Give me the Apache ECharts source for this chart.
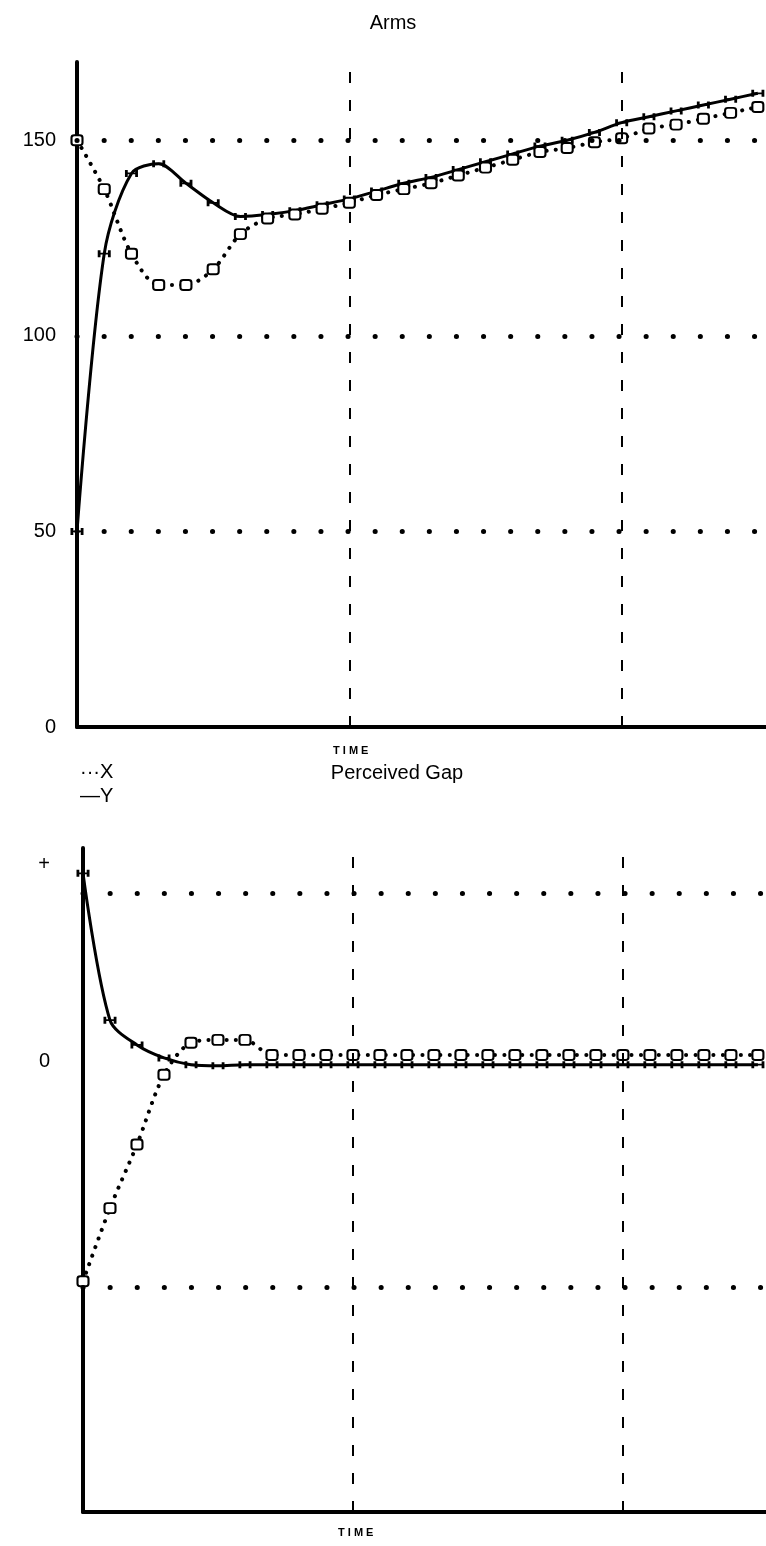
<!DOCTYPE html>
<html>
<head>
<meta charset="utf-8">
<script src="https://cdn.jsdelivr.net/npm/echarts@6/dist/echarts.min.js"></script>
<style>
  html, body { margin: 0; padding: 0; background: #fff; }
  #main { width: 766px; height: 1546px; }
</style>
</head>
<body>
<div id="main"></div>
<script>
// time steps (both panels)
var timeSteps = [0, 2, 4, 6, 8, 10, 12, 14, 16, 18, 20, 22, 24, 26, 28, 30, 32, 34, 36, 38, 40, 42, 44, 46, 48, 50];

// Arms
var armsX = [150, 137.5, 121, 113, 113, 117, 126, 130, 131, 132.5, 134, 136, 137.5, 139, 141, 143, 145, 147, 148, 149.5, 150.5, 153, 154, 155.5, 157, 158.5];
var armsY = [50, 121, 141.5, 144, 139, 134, 130.5, 131, 132, 133.5, 135, 137, 139, 140.5, 142.5, 144.5, 146.5, 148.5, 150, 152, 154.5, 156, 157.5, 159, 160.5, 162];
var armsTicks = [0, 50, 100, 150];
var armsGrid = [50, 100, 150];

// Perceived Gap
var gapX = [-39, -26, -14.7, -2.3, 3.4, 3.9, 3.9, 1.2, 1.2, 1.2, 1.2, 1.2, 1.2, 1.2, 1.2, 1.2, 1.2, 1.2, 1.2, 1.2, 1.2, 1.2, 1.2, 1.2, 1.2, 1.2];
var gapY = [33.5, 7.4, 3, 0.7, -0.5, -0.7, -0.5, -0.5, -0.5, -0.5, -0.5, -0.5, -0.5, -0.5, -0.5, -0.5, -0.5, -0.5, -0.5, -0.5, -0.5, -0.5, -0.5, -0.5, -0.5, -0.5];
var gapTicks = [0, 35];
var gapTickText = ["0", "+"];
var gapGrid = [30, -40];

var timeMarks = [20, 40];

function pairs(ys) {
  return timeSteps.map(function (t, i) { return [t, ys[i]]; });
}

var FONT = "Liberation Sans";
var iBeam = "path://M0,0 H3 V3 H11 V0 H14 V8 H11 V5 H3 V8 H0 Z";

var dotted = { color: "#000", width: 5, cap: "round", type: [0.1, 27] };
var dashed = { color: "#000", width: 2, type: [11, 17] };

function guideLines(hor) {
  return {
    silent: true,
    symbol: "none",
    label: { show: false },
    data: hor.map(function (v) { return { yAxis: v, lineStyle: dotted }; })
      .concat(timeMarks.map(function (v) { return { xAxis: v, lineStyle: dashed }; }))
  };
}

function dottedLine() {
  return { color: "#000", width: 4, cap: "round", type: [0.1, 9] };
}

var chart = echarts.init(document.getElementById("main"));

var option = {
  animation: false,
  textStyle: { fontFamily: FONT },
  title: [
    { text: "Arms", left: 388, top: 8, textAlign: "center",
      textStyle: { fontFamily: FONT, fontSize: 20, fontWeight: "normal", color: "#000" } },
    { text: "Perceived Gap", left: 392, top: 758, textAlign: "center",
      textStyle: { fontFamily: FONT, fontSize: 20, fontWeight: "normal", color: "#000" } }
  ],
  grid: [
    { left: 77, right: 0, top: 62, height: 665 },
    { left: 83, right: 0, top: 848, height: 664 }
  ],
  xAxis: [0, 1].map(function (g) {
    return {
      type: "value", gridIndex: g, min: 0, max: 50.6,
      axisLine: { onZero: false, lineStyle: { color: "#000", width: 4 } },
      axisTick: { show: false }, axisLabel: { show: false }, splitLine: { show: false }
    };
  }),
  yAxis: [
    {
      type: "value", gridIndex: 0, min: 0, max: 170, interval: 10,
      axisLine: { show: true, onZero: false, lineStyle: { color: "#000", width: 4 } },
      axisTick: { show: false }, splitLine: { show: false },
      axisLabel: {
        margin: 21, fontSize: 20, color: "#000", fontFamily: FONT,
        showMaxLabel: false,
        formatter: function (v) { return armsTicks.indexOf(v) >= 0 ? String(v) : ""; }
      }
    },
    {
      type: "value", gridIndex: 1, min: -80, max: 38, interval: 5,
      axisLine: { show: true, onZero: false, lineStyle: { color: "#000", width: 4 } },
      axisTick: { show: false }, splitLine: { show: false },
      axisLabel: {
        margin: 33, fontSize: 20, color: "#000", fontFamily: FONT,
        showMaxLabel: false,
        formatter: function (v) {
          var k = gapTicks.indexOf(v);
          return k >= 0 ? gapTickText[k] : "";
        }
      }
    }
  ],
  graphic: [
    { type: "text", left: 333, top: 745, style: { text: "T I M E", font: "bold 11px " + FONT, fill: "#000" } },
    { type: "text", left: 338, top: 1527, style: { text: "T I M E", font: "bold 11px " + FONT, fill: "#000" } },
    { type: "text", left: 80, top: 762, style: { text: "\u00b7\u00b7\u00b7X", font: "20px " + FONT, fill: "#000" } },
    { type: "text", left: 80, top: 786, style: { text: "\u2014Y", font: "20px " + FONT, fill: "#000" } }
  ],
  series: [
    {
      name: "Y", type: "line", xAxisIndex: 0, yAxisIndex: 0, data: pairs(armsY),
      smooth: 0.3, symbol: iBeam, symbolSize: [13, 7], showAllSymbol: true,
      lineStyle: { color: "#000", width: 3 }, itemStyle: { color: "#000" },
      markLine: guideLines(armsGrid), z: 3
    },
    {
      name: "X", type: "line", xAxisIndex: 0, yAxisIndex: 0, data: pairs(armsX),
      smooth: 0.3, symbol: "emptyRoundRect", symbolSize: [11, 10], showAllSymbol: true,
      lineStyle: dottedLine(), itemStyle: { color: "#000", borderWidth: 2 }, z: 4
    },
    {
      name: "Y", type: "line", xAxisIndex: 1, yAxisIndex: 1, data: pairs(gapY),
      smooth: 0.3, symbol: iBeam, symbolSize: [13, 7], showAllSymbol: true,
      lineStyle: { color: "#000", width: 3 }, itemStyle: { color: "#000" },
      markLine: guideLines(gapGrid), z: 3
    },
    {
      name: "X", type: "line", xAxisIndex: 1, yAxisIndex: 1, data: pairs(gapX),
      smooth: 0.3, symbol: "emptyRoundRect", symbolSize: [11, 10], showAllSymbol: true,
      lineStyle: dottedLine(), itemStyle: { color: "#000", borderWidth: 2 }, z: 4
    }
  ]
};

chart.setOption(option);
</script>
</body>
</html>
